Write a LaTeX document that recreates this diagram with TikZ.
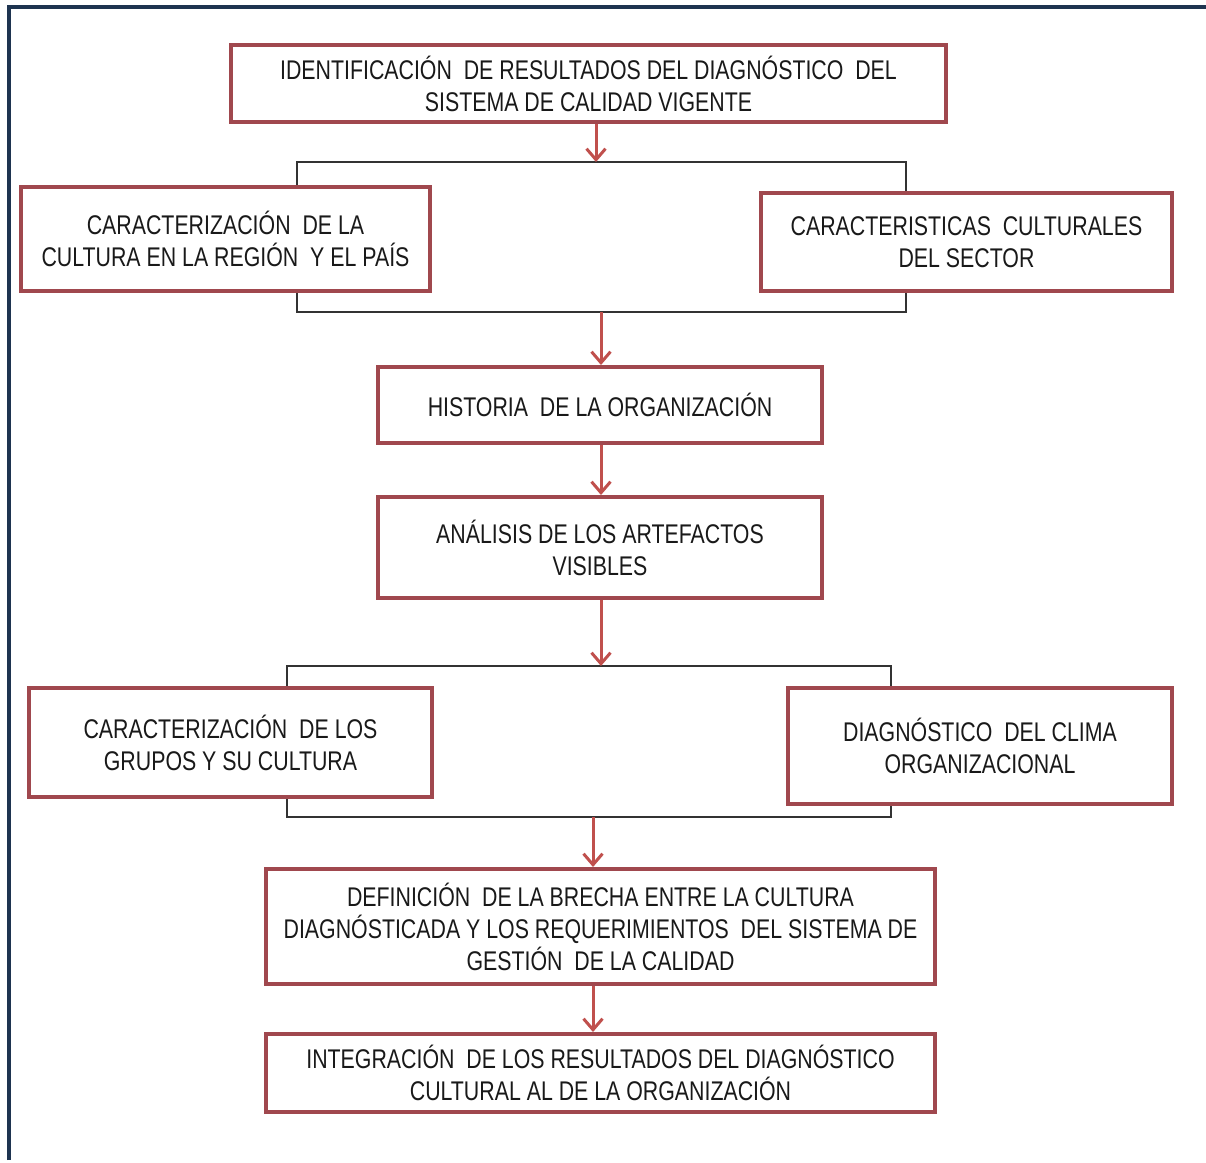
\documentclass[tikz,border=0pt]{standalone}
\usepackage{fontspec}
\setmainfont{Liberation Sans}[FakeStretch=0.79]
\usetikzlibrary{arrows.meta,calc,positioning}
\definecolor{boxred}{RGB}{160,72,78}
\definecolor{flowred}{RGB}{192,80,77}
\definecolor{framenavy}{RGB}{30,52,80}
\tikzset{
  stepbox/.style={draw=boxred,line width=4pt,fill=white,align=center,
    inner sep=0pt,text=black!90,font=\fontsize{27}{32}\selectfont},
  flow/.style={draw=flowred,line width=3pt,-{Straight Barb[length=11pt,width=19pt,line width=3pt]}},
  link/.style={draw=black!80,line width=1.4pt}
}
\begin{document}
\begin{tikzpicture}[x=1pt,y=-1pt]
 \useasboundingbox (0,0) rectangle (1206,1162);
 % frame
 \draw[framenavy,line width=4pt] (9,1160) -- (9,7) -- (1206,7);
 % boxes
 \node[stepbox,minimum width=715pt,minimum height=77pt] (ident) at (588.5,83.5)
   {IDENTIFICACIÓN~ DE RESULTADOS DEL DIAGNÓSTICO~ DEL\\SISTEMA DE CALIDAD VIGENTE};
 \node[stepbox,minimum width=409pt,minimum height=104pt] (region) at (225.5,239)
   {CARACTERIZACIÓN~ DE LA\\CULTURA EN LA REGIÓN~ Y EL PAÍS};
 \node[stepbox,minimum width=411pt,minimum height=98pt] (sector) at (966.5,242)
   {CARACTERISTICAS~ CULTURALES\\DEL SECTOR};
 \node[stepbox,minimum width=444pt,minimum height=76pt] (hist) at (600,405)
   {HISTORIA~ DE LA ORGANIZACIÓN};
 \node[stepbox,minimum width=444pt,minimum height=101pt] (artef) at (600,547.5)
   {ANÁLISIS DE LOS ARTEFACTOS\\VISIBLES};
 \node[stepbox,minimum width=403pt,minimum height=109pt] (grupos) at (230.5,742.5)
   {CARACTERIZACIÓN~ DE LOS\\GRUPOS Y SU CULTURA};
 \node[stepbox,minimum width=384pt,minimum height=116pt] (clima) at (980,746)
   {DIAGNÓSTICO~ DEL CLIMA\\ORGANIZACIONAL};
 \node[stepbox,minimum width=669pt,minimum height=115pt] (brecha) at (600.5,926.5)
   {DEFINICIÓN~ DE LA BRECHA ENTRE LA CULTURA\\DIAGNÓSTICADA Y LOS REQUERIMIENTOS~ DEL SISTEMA DE\\GESTIÓN~ DE LA CALIDAD};
 \node[stepbox,minimum width=669pt,minimum height=78pt] (integ) at (600.5,1073)
   {INTEGRACIÓN~ DE LOS RESULTADOS DEL DIAGNÓSTICO\\CULTURAL AL DE LA ORGANIZACIÓN};
 % brackets
 \coordinate (b1l) at (297,162);
 \coordinate (b1r) at (906,162);
 \coordinate (b1top) at (596,162);
 \coordinate (b1bot) at (601,312);
 \coordinate (b2l) at (287,666);
 \coordinate (b2r) at (891,666);
 \coordinate (b2top) at (601,666);
 \coordinate (b2bot) at (593,817);
 \draw[link] (region.north -| b1l) -- (b1l) -- (b1r) -- (sector.north -| b1r);
 \draw[link] (region.south -| b1l) -- (b1l |- b1bot) -- (b1r |- b1bot) -- (sector.south -| b1r);
 \draw[link] (grupos.north -| b2l) -- (b2l) -- (b2r) -- (clima.north -| b2r);
 \draw[link] (grupos.south -| b2l) -- (b2l |- b2bot) -- (b2r |- b2bot) -- (clima.south -| b2r);
 % arrows
 \draw[flow] (ident.south -| b1top) -- (b1top);
 \draw[flow] (b1bot) -- (hist.north -| b1bot);
 \draw[flow] (hist.south -| b1bot) -- (artef.north -| b1bot);
 \draw[flow] (artef.south -| b2top) -- (b2top);
 \draw[flow] (b2bot) -- (brecha.north -| b2bot);
 \draw[flow] (brecha.south -| b2bot) -- (integ.north -| b2bot);
\end{tikzpicture}
\end{document}
